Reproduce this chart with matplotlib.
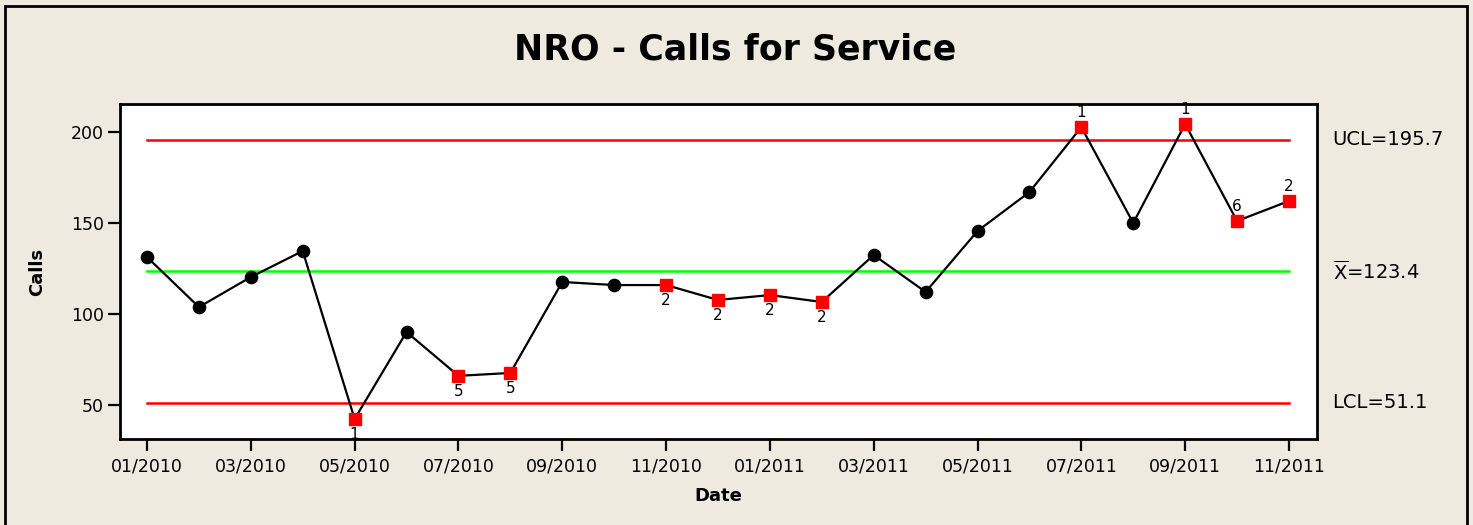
import matplotlib
matplotlib.use('Agg')
import matplotlib.pyplot as plt
from matplotlib.patches import Rectangle

# dados do grafico de controle
meses = ['01/2010', '02/2010', '03/2010', '04/2010', '05/2010', '06/2010',
         '07/2010', '08/2010', '09/2010', '10/2010', '11/2010', '12/2010',
         '01/2011', '02/2011', '03/2011', '04/2011', '05/2011', '06/2011',
         '07/2011', '08/2011', '09/2011', '10/2011', '11/2011']
chamadas = [131.3, 103.8, 120.3, 134.6, 42.3, 90.1, 66.0, 67.6, 117.6, 115.9,
            115.9, 107.7, 110.4, 106.6, 132.4, 112.1, 145.6, 167.0, 202.7,
            150.0, 204.4, 151.1, 162.1]
# testes que falharam (vazio = ponto sob controle)
testes = ['', '', '', '', '1', '', '5', '5', '', '', '2', '2', '2', '2', '',
          '', '', '', '1', '', '1', '6', '2']
ucl = 195.7
media = 123.4
lcl = 51.1
yticks = [50, 100, 150, 200]

fundo = '#EEEAE0'

plt.rcParams['mathtext.fontset'] = 'dejavusans'

fig = plt.figure(figsize=(14.73, 5.25), dpi=100)
fig.patch.set_facecolor(fundo)
fig.patches.append(Rectangle((5 / 1473, -0.05), 1462 / 1473, 1.05 - 6 / 525,
                             transform=fig.transFigure, fill=False,
                             edgecolor='black', linewidth=2))

ax = fig.add_axes([120 / 1473, 1 - 439 / 525, 1197 / 1473, 335 / 525])
ax.set_facecolor('white')

x = list(range(len(meses)))

# linhas de controle
ax.plot([x[0], x[-1]], [ucl, ucl], color='#FF0000', lw=1.8, zorder=1)
ax.plot([x[0], x[-1]], [lcl, lcl], color='#FF0000', lw=1.8, zorder=1)
ax.plot([x[0], x[-1]], [media, media], color='#00FF00', lw=1.8, zorder=1)

ax.plot(x, chamadas, color='black', lw=1.6, zorder=2)

okX, okY, foraX, foraY = [], [], [], []
for i in x:
    if testes[i] == '':
        okX.append(i)
        okY.append(chamadas[i])
    else:
        foraX.append(i)
        foraY.append(chamadas[i])
        if chamadas[i] > media:
            ax.annotate(testes[i], (i, chamadas[i]), xytext=(0, 5),
                        textcoords='offset points', ha='center', va='bottom',
                        fontsize=11)
        else:
            ax.annotate(testes[i], (i, chamadas[i]), xytext=(0, -6),
                        textcoords='offset points', ha='center', va='top',
                        fontsize=11)

ax.plot(okX, okY, 'o', color='black', markersize=8.8, zorder=3)
ax.plot(foraX, foraY, 's', color='#FF0000', markersize=8.8, zorder=3)

ax.set_xlim(-0.52, 22.54)
ax.set_ylim(31.3, 215.4)
ax.set_yticks(yticks)
ax.set_xticks(x[::2])
ax.set_xticklabels(meses[::2])
ax.tick_params(axis='both', direction='out', length=8.5, width=1.6,
               labelsize=12.5, colors='black')
ax.tick_params(axis='x', pad=5)
ax.tick_params(axis='y', pad=3)
for s in ax.spines.values():
    s.set_linewidth(2)

ax.set_xlabel('Date', fontsize=13, fontweight='bold', labelpad=8)
ax.set_ylabel('Calls', fontsize=13, fontweight='bold', labelpad=18)

fig.text(735 / 1473, 1 - 50 / 525, 'NRO - Calls for Service', ha='center',
         va='center', fontsize=25, fontweight='bold')

tr = ax.get_yaxis_transform()
ax.text(1.013, ucl, 'UCL=195.7', transform=tr, va='center', fontsize=14)
ax.text(1.013, media, r'$\overline{\mathrm{X}}$=123.4', transform=tr,
        va='center', fontsize=14)
ax.text(1.013, lcl, 'LCL=51.1', transform=tr, va='center', fontsize=14)

fig.savefig('out.png', dpi=100, facecolor=fundo)
